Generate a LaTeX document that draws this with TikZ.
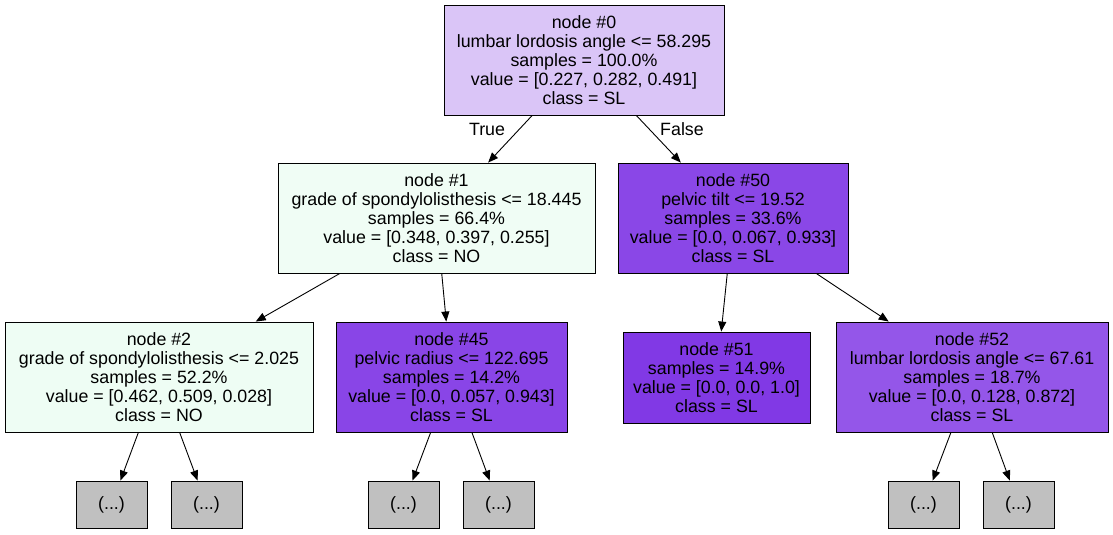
\documentclass[tikz,border=0pt]{standalone}
\usepackage{fontspec}
\setmainfont{Liberation Sans}
\usetikzlibrary{arrows.meta}
\definecolor{c0}{RGB}{218,197,247}
\definecolor{c1}{RGB}{240,253,245}
\definecolor{c2}{RGB}{238,253,244}
\definecolor{c45}{RGB}{137,69,231}
\definecolor{c50}{RGB}{138,71,231}
\definecolor{c51}{RGB}{129,57,229}
\definecolor{c52}{RGB}{148,86,233}
\definecolor{cg}{RGB}{192,192,192}
\tikzset{
  tnode/.style={draw=black, line width=0.9pt, inner sep=0pt, align=center,
    font=\fontsize{17.8}{19}\selectfont, minimum height=110pt},
  leaf/.style={draw=black, line width=0.9pt, fill=cg, inner sep=0pt,
    minimum width=71pt, minimum height=47pt, font=\fontsize{17.8}{19}\selectfont},
  edge/.style={line width=0.9pt, -{Triangle[length=10pt,width=8pt]}},
  elabel/.style={font=\fontsize{17.8}{19}\selectfont}
}
\begin{document}
\begin{tikzpicture}[x=1pt,y=-1pt]
\useasboundingbox (0,0) rectangle (1113,535);
\node[tnode, fill=c0, minimum width=280pt] (n0) at (584,60) {node \#0\\lumbar lordosis angle <= 58.295\\samples = 100.0\%\\value = [0.227, 0.282, 0.491]\\class = SL};
\node[tnode, fill=c1, minimum width=317pt] (n1) at (436.5,218) {node \#1\\grade of spondylolisthesis <= 18.445\\samples = 66.4\%\\value = [0.348, 0.397, 0.255]\\class = NO};
\node[tnode, fill=c50, minimum width=230pt] (n50) at (733,218) {node \#50\\pelvic tilt <= 19.52\\samples = 33.6\%\\value = [0.0, 0.067, 0.933]\\class = SL};
\node[tnode, fill=c2, minimum width=308pt] (n2) at (159,377) {node \#2\\grade of spondylolisthesis <= 2.025\\samples = 52.2\%\\value = [0.462, 0.509, 0.028]\\class = NO};
\node[tnode, fill=c45, minimum width=231pt] (n45) at (451.5,377) {node \#45\\pelvic radius <= 122.695\\samples = 14.2\%\\value = [0.0, 0.057, 0.943]\\class = SL};
\node[tnode, fill=c51, minimum width=187pt, minimum height=91pt] (n51) at (716.5,377.5) {node \#51\\samples = 14.9\%\\value = [0.0, 0.0, 1.0]\\class = SL};
\node[tnode, fill=c52, minimum width=272pt] (n52) at (972,377) {node \#52\\lumbar lordosis angle <= 67.61\\samples = 18.7\%\\value = [0.0, 0.128, 0.872]\\class = SL};
\node[leaf] (l1) at (111.5,504.5) {(...)};
\node[leaf] (l2) at (206.5,504.5) {(...)};
\node[leaf] (l3) at (403.5,504.5) {(...)};
\node[leaf] (l4) at (498.5,504.5) {(...)};
\node[leaf] (l5) at (923.5,504.5) {(...)};
\node[leaf] (l6) at (1018.5,504.5) {(...)};
\draw[edge] (n0) -- (n1);
\draw[edge] (n0) -- (n50);
\draw[edge] (n1) -- (n2);
\draw[edge] (n1) -- (n45);
\draw[edge] (n50) -- (n51);
\draw[edge] (n50) -- (n52);
\draw[edge] (n2) -- (l1);
\draw[edge] (n2) -- (l2);
\draw[edge] (n45) -- (l3);
\draw[edge] (n45) -- (l4);
\draw[edge] (n52) -- (l5);
\draw[edge] (n52) -- (l6);
\node[elabel] (tl) at (487,129) {True};
\node[elabel] (fl) at (682,129) {False};
\end{tikzpicture}
\end{document}
